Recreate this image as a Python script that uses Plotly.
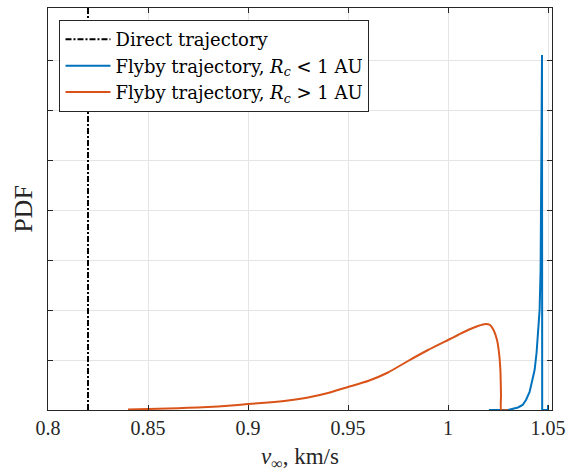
import plotly.graph_objects as go

# ---- data ----
direct_v = 0.82

orange_v = [0.8400, 0.8500, 0.8600, 0.8700, 0.8800, 0.8900, 0.9000, 0.9100, 0.9200,
            0.9300, 0.9400, 0.9500, 0.9600, 0.9700, 0.9800, 0.9900, 1.0000, 1.0050,
            1.0100, 1.0150, 1.0188, 1.0210, 1.0230, 1.0245, 1.0255, 1.0262, 1.0265,
            1.0266, 1.0298]
orange_pdf = [0.01, 0.02, 0.03, 0.045, 0.06, 0.085, 0.12, 0.15, 0.19,
              0.25, 0.34, 0.46, 0.58, 0.75, 0.98, 1.20, 1.40, 1.50,
              1.60, 1.68, 1.72, 1.70, 1.58, 1.40, 1.15, 0.80, 0.30,
              0.0, 0.0]

blue_v = [1.0205, 1.0300, 1.0320, 1.0350, 1.0373, 1.0390, 1.0408, 1.0420, 1.0433,
          1.0443, 1.0450, 1.0458, 1.0463, 1.0466, 1.0468, 1.0470, 1.0471, 1.0500, 1.0500]
blue_pdf = [0.0, 0.0, 0.02, 0.05, 0.10, 0.20, 0.36, 0.55, 0.80,
            1.15, 1.50, 2.0, 2.8, 4.5, 7.1, 7.1, 0.0, 0.0, 0.1]

x_range = [0.8, 1.052]
y_range = [0, 8.04]
x_ticks = [0.8, 0.85, 0.9, 0.95, 1.0, 1.05]
x_ticklabels = ["0.8", "0.85", "0.9", "0.95", "1", "1.05"]
y_ticks = [1, 2, 3, 4, 5, 6, 7]

BLUE = "#0072BD"
ORANGE = "#D95319"
AXC = "#262626"
FONT = "Liberation Serif, Times New Roman, serif"
LEGFONT = "DejaVu Serif, serif"

fig = go.Figure()
fig.add_trace(go.Scatter(
    x=[direct_v, direct_v], y=y_range, mode="lines",
    line=dict(color="black", width=2, dash="6px,2px,2px,2px"),
    name="Direct trajectory"))
fig.add_trace(go.Scatter(
    x=blue_v, y=blue_pdf, mode="lines",
    line=dict(color=BLUE, width=2),
    name="Flyby trajectory, <i>R</i><sub><i>c</i></sub> &lt; 1 AU"))
fig.add_trace(go.Scatter(
    x=orange_v, y=orange_pdf, mode="lines",
    line=dict(color=ORANGE, width=2, shape="spline", smoothing=0.5),
    name="Flyby trajectory, <i>R</i><sub><i>c</i></sub> &gt; 1 AU"))

axis_common = dict(
    showline=True, linecolor=AXC, linewidth=1, mirror="ticks",
    ticks="inside", ticklen=5, tickcolor=AXC, automargin=False,
    showgrid=True, gridcolor="#e5e5e5", gridwidth=1, zeroline=False,
)

fig.update_layout(
    width=568, height=472,
    margin=dict(l=48, r=16, t=8, b=62),
    paper_bgcolor="white", plot_bgcolor="white",
    font=dict(family=FONT, color=AXC, size=20),
    showlegend=True,
    legend=dict(
        x=0.0228, y=0.970, xanchor="left", yanchor="top",
        bgcolor="white", bordercolor=AXC, borderwidth=1,
        font=dict(family=LEGFONT, size=18, color="black"),
        itemwidth=45, tracegroupgap=0,
    ),
    xaxis=dict(range=x_range, tickvals=x_ticks, ticktext=x_ticklabels,
               tickfont=dict(size=20, family=FONT), ticklabeloverflow="allow",
               title=dict(text="<i>v</i><sub>∞</sub>, km/s",
                          font=dict(size=23, family=FONT), standoff=10),
               **axis_common),
    yaxis=dict(range=y_range, tickvals=y_ticks, showticklabels=False,
               title=dict(text="PDF", font=dict(size=26, family=FONT), standoff=6),
               **axis_common),
)

fig.write_html(
    "out.html",
    config={"displayModeBar": False},
    post_script="document.body.style.margin='0';document.body.style.overflow='hidden';",
)
